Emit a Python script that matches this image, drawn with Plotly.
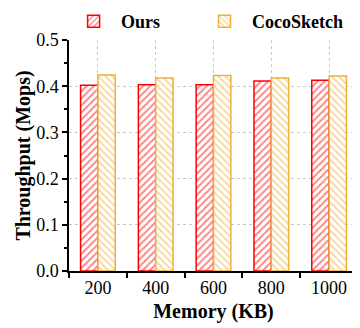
import plotly.graph_objects as go

categories = ["200", "400", "600", "800", "1000"]
ours = [0.402, 0.403, 0.403, 0.411, 0.413]
coco = [0.424, 0.418, 0.423, 0.418, 0.422]
series_names = ["Ours", "CocoSketch"]

xpos = list(range(len(categories)))
FONT = "Liberation Serif"
RED = "#FF0000"
GOLD = "#EDB03A"

fig = go.Figure()
fig.add_trace(go.Bar(
    x=xpos, y=ours, name=series_names[0], legend="legend",
    marker=dict(color="white", line=dict(color=RED, width=1.5),
                pattern=dict(shape="/", fgcolor=RED, bgcolor="white", size=5, solidity=0.35)),
))
fig.add_trace(go.Bar(
    x=xpos, y=coco, name=series_names[1], legend="legend2",
    marker=dict(color="white", line=dict(color=GOLD, width=1.5),
                pattern=dict(shape="\\", fgcolor=GOLD, bgcolor="white", size=5, solidity=0.35)),
))

legend_common = dict(orientation="h", y=1.0, yanchor="bottom", xanchor="left",
                     font=dict(family=FONT, size=18, color="black", weight="bold"),
                     itemwidth=45, bgcolor="rgba(0,0,0,0)")

# page body has an 8px margin, so the figure is 352x320 and offset accordingly
fig.update_layout(
    width=352, height=320,
    margin=dict(l=61, r=2, t=32, b=57, autoexpand=False),
    paper_bgcolor="white", plot_bgcolor="white",
    barmode="group", bargap=0.4, bargroupgap=0,
    font=dict(family=FONT, size=17, color="black"),
    legend=dict(x=-0.01, **legend_common),
    legend2=dict(x=0.443, **legend_common),
    showlegend=True,
)
fig.update_xaxes(
    range=[-0.5, len(categories) - 0.5],
    tickmode="array", tickvals=xpos, ticktext=categories, ticks="",
    showline=True, linecolor="black", linewidth=1.5,
    showgrid=True, gridcolor="#c8c8c8", griddash="dot", gridwidth=1,
    zeroline=False, automargin=False,
    minor=dict(tickvals=[i - 0.5 for i in range(len(categories) + 1)], ticks="outside",
               ticklen=5, tickwidth=1.5, tickcolor="black", showgrid=False),
    title=dict(text="<b>Memory (KB)</b>", standoff=7),
    tickfont=dict(size=18),
)
fig.update_yaxes(
    range=[0, 0.5], dtick=0.1, tickformat=".1f",
    ticks="outside", ticklen=5, tickwidth=1.5, tickcolor="black",
    showline=True, linecolor="black", linewidth=1.5,
    showgrid=True, gridcolor="#c8c8c8", griddash="dot", gridwidth=1,
    zeroline=False, automargin=False,
    minor=dict(dtick=0.05, ticks="outside", ticklen=3, tickwidth=1.5, tickcolor="black", showgrid=False),
    title=dict(text="<b>Throughput (Mops)</b>", standoff=0),
    tickfont=dict(size=18),
)

fig.write_html("out.html")
